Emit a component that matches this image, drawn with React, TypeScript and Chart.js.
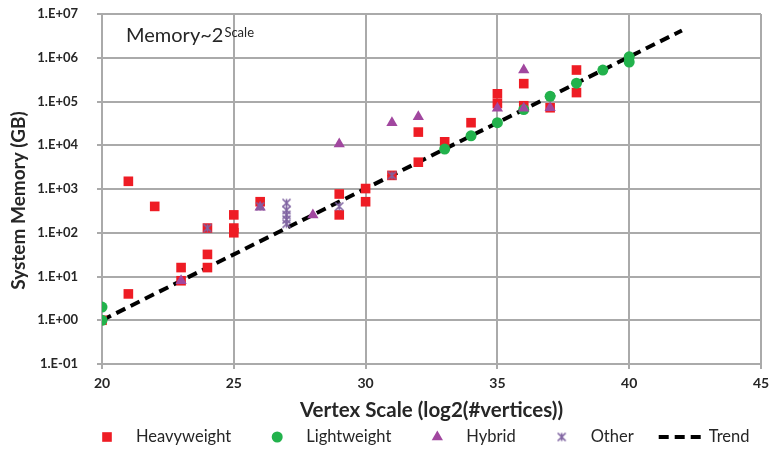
import React, { useEffect, useRef } from 'react';
import { Chart, registerables } from 'chart.js';

Chart.register(...registerables);

// Heavyweight systems: vertex scale vs memory (GB)
const heavyX = [20, 21, 21, 22, 23, 23, 24, 24, 24, 25, 25, 25, 26, 29, 29, 30, 30, 31, 32, 32, 33, 34, 35, 35, 36, 36, 37, 38, 38];
const heavyY = [1, 1500, 4, 400, 16, 8, 32, 16, 128, 256, 128, 100, 512, 768, 256, 1024, 512, 2048, 20000, 4096, 12000, 32768, 150000, 90000, 256000, 80000, 72000, 524288, 160000];

// Lightweight systems
const lightX = [20, 20, 33, 34, 35, 36, 37, 38, 39, 40, 40];
const lightY = [2, 1, 8192, 16384, 32768, 65536, 131072, 262144, 524288, 1048576, 800000];

// Hybrid systems
const hybridX = [23, 26, 28, 29, 31, 32, 35, 36, 36, 37];
const hybridY = [8, 384, 256, 10700, 32768, 45000, 70000, 524288, 70000, 72000];

// Other systems
const otherX = [24, 26, 27, 27, 27, 27, 27, 29, 31];
const otherY = [128, 400, 480, 330, 256, 200, 160, 400, 2048];

// Trend line endpoints: memory grows as 2^scale
const trendX = [20, 42];
const trendY = [1, 4194304];

const xTicks = [20, 25, 30, 35, 40, 45];
const yTicks = [0.1, 1, 10, 100, 1000, 10000, 100000, 1000000, 10000000];
const yTickLabels = ['1.E-01', '1.E+00', '1.E+01', '1.E+02', '1.E+03', '1.E+04', '1.E+05', '1.E+06', '1.E+07'];

const seriesNames = ['Heavyweight', 'Lightweight', 'Hybrid', 'Other', 'Trend'];
const xTitle = 'Vertex Scale (log2(#vertices))';
const yTitle = 'System Memory (GB)';
const noteMain = 'Memory~2';
const noteSup = 'Scale';

const RED = '#ee1c24';
const GREEN = '#22b24c';
const PURPLE = '#a1479f';
const LAVENDER = '#7f63a1';
const GRID = '#aaaaaa';
const FONT = 'Lato, "Open Sans", sans-serif';

const pts = (xs: number[], ys: number[]) => xs.map((x, i) => ({ x, y: ys[i] }));

// Asterisk-style marker: an X with a vertical bar through it
function makeAsterisk(color: string, size: number): HTMLCanvasElement {
  const c = document.createElement('canvas');
  c.width = size;
  c.height = size;
  const g = c.getContext('2d')!;
  g.strokeStyle = color;
  g.lineWidth = 1.6;
  const m = 1.5;
  g.beginPath();
  g.moveTo(m, m);
  g.lineTo(size - m, size - m);
  g.moveTo(size - m, m);
  g.lineTo(m, size - m);
  g.moveTo(size / 2, m);
  g.lineTo(size / 2, size - m);
  g.stroke();
  return c;
}

// Text note in the upper-left of the plot area, with a superscript
const notePlugin = {
  id: 'scaleNote',
  afterDraw(chart: any) {
    const { ctx, chartArea } = chart;
    ctx.save();
    ctx.fillStyle = '#262626';
    ctx.textBaseline = 'alphabetic';
    ctx.textAlign = 'left';
    const x = chartArea.left + 24;
    const y = chartArea.top + 28;
    ctx.font = `20px ${FONT}`;
    ctx.fillText(noteMain, x, y);
    const w = ctx.measureText(noteMain).width;
    ctx.font = `13px ${FONT}`;
    ctx.fillText(noteSup, x + w + 1, y - 5);
    ctx.restore();
  },
};

// Single-row legend along the bottom edge
const legendPlugin = {
  id: 'bottomLegend',
  afterDraw(chart: any) {
    const { ctx, chartArea } = chart;
    const slot = 42;
    const textGap = 8;
    const itemGap = 25;
    const cy = 437;
    let left = chartArea.left - 16;
    ctx.save();
    ctx.font = `16.5px ${FONT}`;
    ctx.textBaseline = 'middle';
    ctx.textAlign = 'left';
    chart.data.datasets
      .slice()
      .sort((a: any, b: any) => a.legendIndex - b.legendIndex)
      .forEach((ds: any) => {
        const cx = left + slot / 2;
        const style = ds.pointStyle;
        ctx.save();
        if (ds.isTrend) {
          ctx.strokeStyle = ds.borderColor;
          ctx.lineWidth = ds.borderWidth;
          ctx.setLineDash(ds.borderDash);
          ctx.beginPath();
          ctx.moveTo(left, cy);
          ctx.lineTo(left + slot, cy);
          ctx.stroke();
        } else if (style instanceof HTMLCanvasElement) {
          ctx.drawImage(style, cx - style.width / 2, cy - style.height / 2);
        } else {
          ctx.fillStyle = ds.backgroundColor;
          const r = ds.pointRadius;
          ctx.beginPath();
          if (style === 'rect') {
            const s = Math.SQRT1_2 * r;
            ctx.rect(cx - s, cy - s, 2 * s, 2 * s);
          } else if (style === 'triangle') {
            ctx.moveTo(cx, cy - r);
            ctx.lineTo(cx + r * Math.sin(Math.PI / 3), cy + r / 2);
            ctx.lineTo(cx - r * Math.sin(Math.PI / 3), cy + r / 2);
            ctx.closePath();
          } else {
            ctx.arc(cx, cy, r, 0, Math.PI * 2);
          }
          ctx.fill();
        }
        ctx.restore();
        ctx.fillStyle = '#262626';
        const tx = left + slot + textGap;
        ctx.fillText(ds.label, tx, cy);
        left = tx + ctx.measureText(ds.label).width + itemGap;
      });
    ctx.restore();
  },
};

export default function App() {
  const canvasRef = useRef<HTMLCanvasElement>(null);

  useEffect(() => {
    if (!canvasRef.current) return;
    const asterisk = makeAsterisk(LAVENDER, 11);

    const chart = new Chart(canvasRef.current, {
      type: 'scatter',
      data: {
        datasets: [
          {
            label: seriesNames[4],
            type: 'line',
            data: pts(trendX, trendY),
            borderColor: '#000000',
            borderWidth: 4,
            borderDash: [10, 6],
            pointRadius: 0,
            fill: false,
            showLine: true,
            order: 5,
            isTrend: true,
            legendIndex: 4,
          } as any,
          {
            label: seriesNames[0],
            data: pts(heavyX, heavyY),
            pointStyle: 'rect',
            pointRadius: 6.8,
            backgroundColor: RED,
            borderWidth: 0,
            order: 4,
            legendIndex: 0,
          } as any,
          {
            label: seriesNames[1],
            data: pts(lightX, lightY),
            pointStyle: 'circle',
            pointRadius: 5.5,
            backgroundColor: GREEN,
            borderWidth: 0,
            order: 3,
            legendIndex: 1,
          } as any,
          {
            label: seriesNames[2],
            data: pts(hybridX, hybridY),
            pointStyle: 'triangle',
            pointRadius: 6.5,
            backgroundColor: PURPLE,
            borderWidth: 0,
            order: 2,
            legendIndex: 2,
          } as any,
          {
            label: seriesNames[3],
            data: pts(otherX, otherY),
            pointStyle: asterisk,
            pointRadius: 5.5,
            backgroundColor: LAVENDER,
            borderColor: LAVENDER,
            order: 1,
            legendIndex: 3,
          } as any,
        ],
      },
      options: {
        responsive: false,
        animation: false,
        layout: { padding: { left: 0, top: 14, right: 10, bottom: 0 } },
        plugins: {
          legend: { display: false },
          tooltip: { enabled: false },
        },
        scales: {
          x: {
            type: 'linear',
            min: xTicks[0],
            max: xTicks[xTicks.length - 1],
            afterBuildTicks: (scale: any) => {
              scale.ticks = xTicks.map((value) => ({ value }));
            },
            afterFit: (scale: any) => {
              scale.height = 87;
              scale.paddingLeft = 0;
              scale.paddingRight = 0;
            },
            ticks: {
              padding: 6,
              color: '#262626',
              font: { family: FONT, size: 14, weight: 'bold' },
            },
            grid: { color: GRID, lineWidth: 2, tickLength: 5, tickColor: GRID },
            border: { color: GRID, width: 2 },
            title: {
              display: true,
              text: xTitle,
              color: '#262626',
              font: { family: FONT, size: 20.5, weight: 'bold' },
              padding: { top: 0, bottom: 28 },
            },
          },
          y: {
            type: 'logarithmic',
            min: yTicks[0],
            max: yTicks[yTicks.length - 1],
            afterBuildTicks: (scale: any) => {
              scale.ticks = yTicks.map((value) => ({ value }));
            },
            afterFit: (scale: any) => {
              scale.width = 102;
              scale.paddingTop = 0;
              scale.paddingBottom = 0;
            },
            ticks: {
              padding: 19,
              color: '#262626',
              font: { family: FONT, size: 13, weight: 'bold' },
              callback: (value: any) => {
                const i = yTicks.indexOf(Number(value));
                return i >= 0 ? yTickLabels[i] : '';
              },
            },
            grid: { color: GRID, lineWidth: 2, tickLength: 5, tickColor: GRID },
            border: { color: GRID, width: 2 },
            title: {
              display: true,
              text: yTitle + '     ',
              color: '#262626',
              font: { family: FONT, size: 19, weight: 'bold' },
              padding: { top: 7, bottom: 0 },
            },
          },
        },
      },
      plugins: [notePlugin, legendPlugin],
    });

    return () => chart.destroy();
  }, []);

  return (
    <div style={{ position: 'absolute', left: 0, top: 0, width: 771, height: 451, background: '#ffffff' }}>
      <canvas ref={canvasRef} width={771} height={451} style={{ display: 'block' }} />
    </div>
  );
}
